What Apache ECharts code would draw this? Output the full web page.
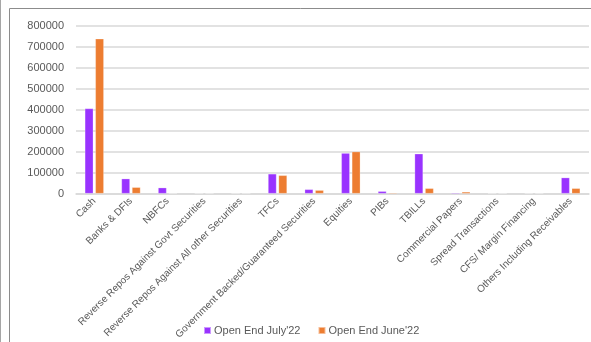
<!DOCTYPE html>
<html><head><meta charset="utf-8">
<script src="https://cdn.jsdelivr.net/npm/echarts@6/dist/echarts.min.js"></script>
<style>html,body{margin:0;padding:0;background:#fff}#c{width:591px;height:342px}</style>
</head><body><div id="c"></div>
<script>
const categories = ["Cash","Banks & DFIs","NBFCs","Reverse Repos Against Govt Securities","Reverse Repos Against All other Securities","TFCs","Government Backed/Guaranteed Securities","Equities","PIBs","TBILLs","Commercial Papers","Spread Transactions","CFS/ Margin Financing","Others Including Receivables"];
const julyValues = [406000, 71000, 28000, 0, 1000, 94000, 20000, 193000, 11000, 190000, 4000, 1000, 1500, 76000];
const juneValues = [739000, 30000, 1500, 1000, 0, 87000, 16000, 200000, 4000, 25000, 8000, 1000, 1500, 25000];
const seriesNames = ["Open End July'22", "Open End June'22"];
const yTicks = [0, 100000, 200000, 300000, 400000, 500000, 600000, 700000, 800000];

const font = "'Liberation Sans', Arial, sans-serif";
const chart = echarts.init(document.getElementById('c'));
chart.setOption({
  animation: false,
  textStyle: {fontFamily: font},
  graphic: [
    {type:'line', shape:{x1:0.5,y1:0,x2:0.5,y2:342}, style:{stroke:'#a6a6a6', lineWidth:1}},
    {type:'rect', shape:{x:9.5,y:8.5,width:600,height:400}, style:{fill:null, stroke:'#8c8c8c', lineWidth:1}}
  ],
  grid: {left: 76, right: 2, top: 26, bottom: 147, containLabel: false},
  legend: {
    data: seriesNames, left: 198, top: 320, itemWidth: 7, itemHeight: 7, itemGap: 17, icon: 'rect',
    textStyle: {fontFamily: font, fontSize: 11, color: '#595959', padding:[0,0,0,-2]}
  },
  xAxis: {
    type: 'category', data: categories,
    axisLine: {show: true, lineStyle: {color: '#d9d9d9', width: 1.5}},
    axisTick: {show: false},
    axisLabel: {interval: 0, rotate: 45, fontSize: 10, color: '#595959', margin: 6, fontFamily: font}
  },
  yAxis: {
    type: 'value', min: 0, max: 800000, interval: 100000,
    axisLine: {show: false}, axisTick: {show: false},
    splitLine: {lineStyle: {color: '#d9d9d9', width: 1.5}},
    axisLabel: {fontSize: 11, color: '#595959', margin: 12, fontFamily: font,
      formatter: v => yTicks.includes(v) ? String(v) : ''}
  },
  series: [
    {name: seriesNames[0], type: 'bar', data: julyValues, barWidth: '23%', barGap: '25%',
     itemStyle: {color: '#9933ff', borderColor: 'rgba(255,255,255,0.5)', borderWidth: 0.5}},
    {name: seriesNames[1], type: 'bar', data: juneValues, barWidth: '23%',
     itemStyle: {color: '#ed7d31', borderColor: 'rgba(255,255,255,0.5)', borderWidth: 0.5}}
  ]
});
</script></body></html>
